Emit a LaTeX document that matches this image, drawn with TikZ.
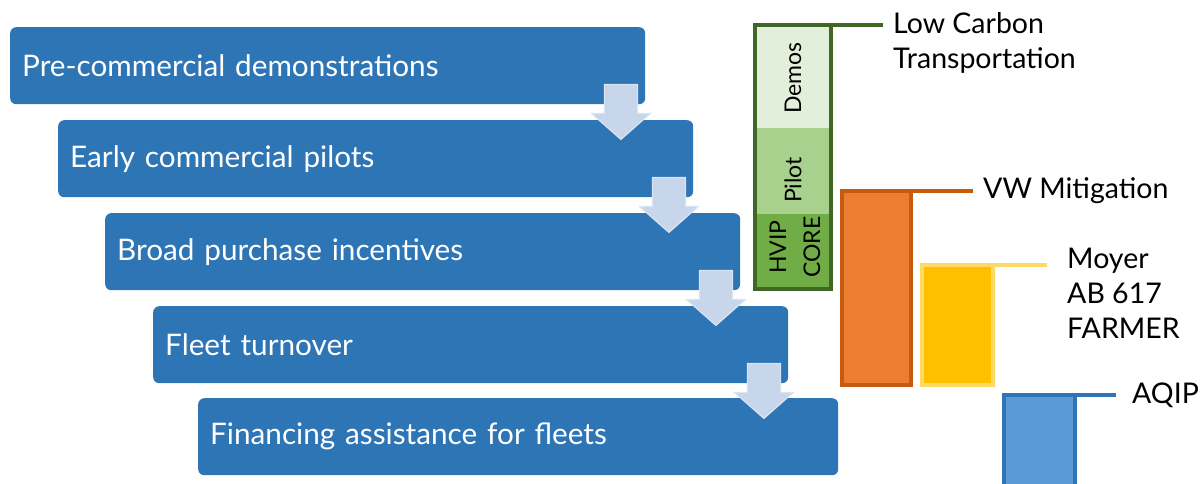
\documentclass[tikz,border=0pt]{standalone}
\usepackage{fontspec}
\setmainfont{Lato}
\definecolor{boxblue}{HTML}{2E75B6}
\definecolor{arrowfill}{HTML}{C7D6EB}
\definecolor{arrowline}{HTML}{D9E3F1}
\definecolor{gdark}{HTML}{3F6826}
\definecolor{glight}{HTML}{E2EFDA}
\definecolor{gmid}{HTML}{A9D18E}
\definecolor{gstrong}{HTML}{70AD47}
\definecolor{ofill}{HTML}{ED7D31}
\definecolor{oline}{HTML}{C55A11}
\definecolor{yfill}{HTML}{FFC000}
\definecolor{yline}{HTML}{FFD966}
\definecolor{bfill}{HTML}{5B9BD5}
\begin{document}
\begin{tikzpicture}[x=1pt,y=-1pt,
  stage/.style={fill=boxblue, rounded corners=6pt, anchor=north west,
    minimum height=77pt, text width=611pt, inner xsep=12pt, inner ysep=0pt,
    align=left, text=white, font=\fontsize{29.7}{34}\selectfont},
  flow/.style={fill=arrowfill, draw=arrowline, line width=1.2pt},
  barlabel/.style={font=\fontsize{23}{26}\selectfont, rotate=90, inner sep=0pt},
  proglabel/.style={anchor=west, align=left, inner sep=0pt, font=\fontsize{28.5}{35}\selectfont}]
\useasboundingbox (0,0) rectangle (1202,483);
% stages
\node[stage] (s1) at (10,27) {Pre-commercial demonstrations};
\node[stage] (s2) at (58,120) {Early commercial pilots};
\node[stage] (s3) at (105,213) {Broad purchase incentives};
\node[stage] (s4) at (153,306) {Fleet turnover};
\node[stage, text width=616pt] (s5) at (198,398) {Financing assistance for fleets};
% down arrows
\foreach \s in {s1,s2,s3,s4}{
  \draw[flow] ([shift={(-41,-20)}]\s.south east) -- ++(33,0) -- ++(0,29) -- ++(13,0)
    -- ++(-29.5,26) -- ++(-29.5,-26) -- ++(13,0) -- cycle;
}
% Low Carbon Transportation bar
\fill[glight] (755,25) rectangle (831,128);
\fill[gmid] (755,128) rectangle (831,214);
\fill[gstrong] (755,214) rectangle (831,289);
\draw[gdark, line width=4pt] (755,25) rectangle (831,289);
\coordinate (lct) at (883,25);
\draw[gdark, line width=4pt] (800,25) -- (lct);
\node[barlabel] (demos) at (793,78) {Demos};
\node[barlabel] (pilot) at (793,180) {Pilot};
\node[barlabel, align=center, font=\fontsize{23}{34}\selectfont] (hvip) at (795,247) {HVIP\\CORE};
\node[proglabel] (lctl) at (893,43) {Low Carbon\\Transportation};
% VW Mitigation
\draw[oline, fill=ofill, line width=4pt] (842,191) rectangle (911,385);
\coordinate (vw) at (973,191);
\draw[oline, line width=4pt] (880,191) -- (vw);
\node[proglabel] (vwl) at (983,191) {VW Mitigation};
% Moyer
\draw[yline, fill=yfill, line width=4pt] (922,265) rectangle (993,385);
\coordinate (my) at (1047,265);
\draw[yline, line width=4pt] (960,265) -- (my);
\node[proglabel] (myl) at (1067,293) {Moyer\\AB 617\\FARMER};
% AQIP
\draw[boxblue, fill=bfill, line width=3.5pt] (1004,395) rectangle (1075,490);
\coordinate (aq) at (1116,395);
\draw[boxblue, line width=3.5pt] (1040,395) -- (aq);
\node[proglabel] (aql) at (1132,395) {AQIP};
\end{tikzpicture}
\end{document}
